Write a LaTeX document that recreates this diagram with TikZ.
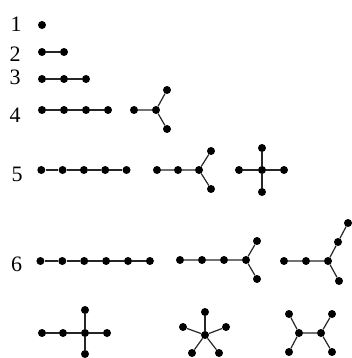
\documentclass[tikz,border=0pt]{standalone}
\usepackage{fontspec}
\setmainfont{Liberation Serif}
\usepackage{tikz}
\begin{document}
\begin{tikzpicture}[x=1pt,y=-1pt]
	\tikzset{vtx/.style={circle,fill=black,inner sep=0pt,minimum size=8pt}};
	\tikzset{lbl/.style={font=\fontsize{22}{24}\selectfont,inner sep=0pt}};
	\tikzset{edge/.style={line width=1.2pt,black!85}};
	\useasboundingbox (0,0) rectangle (351,358);
	% labels
	\node[lbl] (n1) at (16,24) {1};
	\node[lbl] (n2) at (15,54) {2};
	\node[lbl] (n3) at (15,77.5) {3};
	\node[lbl] (n4) at (15,115.5) {4};
	\node[lbl] (n5) at (17,174) {5};
	\node[lbl] (n6) at (16.5,264.5) {6};
	% paths
	\node[vtx] (p11) at (42,25) {};
	\foreach \i in {1,2} \node[vtx] (p2\i) at ({20+22*\i},52) {};
	\foreach \i in {1,...,3} \node[vtx] (p3\i) at ({20+22*\i},79) {};
	\foreach \i in {1,...,4} \node[vtx] (p4\i) at ({20+22*\i},110) {};
	\foreach \i in {1,...,5} \node[vtx] (p5\i) at ({20+21.3*\i},170) {};
	\foreach \i in {1,...,6} \node[vtx] (p6\i) at ({18.5+21.9*\i},261) {};
	\draw[edge] (p21)--(p22);
	\foreach \i [count=\j from 2] in {1,2} \draw[edge] (p3\i)--(p3\j);
	\foreach \i [count=\j from 2] in {1,...,3} \draw[edge] (p4\i)--(p4\j);
	\foreach \i [count=\j from 2] in {1,...,4} \draw[edge] (p5\i)--(p5\j);
	\foreach \i [count=\j from 2] in {1,...,5} \draw[edge] (p6\i)--(p6\j);
	% n=4 fork
	\node[vtx] (fa) at (134,110) {};
	\node[vtx] (fb) at (156,110) {};
	\node[vtx] (fc) at (167,90) {};
	\node[vtx] (fd) at (167,129) {};
	\draw[edge] (fa)--(fb) (fb)--(fc) (fb)--(fd);
	% n=5 fork
	\node[vtx] (ga) at (157,170) {};
	\node[vtx] (gb) at (178,170) {};
	\node[vtx] (gc) at (199,170) {};
	\node[vtx] (gd) at (211,151) {};
	\node[vtx] (ge) at (211,189) {};
	\draw[edge] (ga)--(gb)--(gc) (gc)--(gd) (gc)--(ge);
	% n=5 star
	\node[vtx] (sc) at (262,170) {};
	\node[vtx] (sl) at (239,170) {};
	\node[vtx] (sr) at (284,170) {};
	\node[vtx] (su) at (262,148) {};
	\node[vtx] (sd) at (262,192) {};
	\foreach \k in {sl,sr,su,sd} \draw[edge] (sc)--(\k);
	% n=6 fork
	\node[vtx] (ha) at (180,260) {};
	\node[vtx] (hb) at (202,260) {};
	\node[vtx] (hc) at (224,260) {};
	\node[vtx] (hd) at (246,260) {};
	\node[vtx] (he) at (257,241) {};
	\node[vtx] (hf) at (257,279) {};
	\draw[edge] (ha)--(hb)--(hc)--(hd) (hd)--(he) (hd)--(hf);
	% n=6 long fork
	\node[vtx] (ka) at (284,261) {};
	\node[vtx] (kb) at (306,261) {};
	\node[vtx] (kc) at (328,261) {};
	\node[vtx] (kd) at (339,281) {};
	\node[vtx] (ke) at (338,242) {};
	\node[vtx] (kf) at (348,223) {};
	\draw[edge] (ka)--(kb)--(kc) (kc)--(kd) (kc)--(ke)--(kf);
	% n=6 cross with tail
	\node[vtx] (ma) at (42,333) {};
	\node[vtx] (mb) at (63,333) {};
	\node[vtx] (mc) at (85,333) {};
	\node[vtx] (md) at (107,333) {};
	\node[vtx] (me) at (85,310) {};
	\node[vtx] (mf) at (85,354) {};
	\draw[edge] (ma)--(mb)--(mc) \foreach \k in {md,me,mf} {(mc)--(\k)};
	% n=6 star
	\node[vtx] (qc) at (205,335) {};
	\node[vtx] (qa) at (205,312) {};
	\node[vtx] (qb) at (183,327) {};
	\node[vtx] (qd) at (226,327) {};
	\node[vtx] (qe) at (192,353) {};
	\node[vtx] (qf) at (219,353) {};
	\foreach \k in {qa,qb,qd,qe,qf} \draw[edge] (qc)--(\k);
	% n=6 H
	\node[vtx] (ra) at (299,333) {};
	\node[vtx] (rb) at (321,333) {};
	\node[vtx] (rc) at (289,314) {};
	\node[vtx] (rd) at (289,352) {};
	\node[vtx] (re) at (332,314) {};
	\node[vtx] (rf) at (332,352) {};
	\draw[edge] (ra)--(rb) (ra)--(rc) (ra)--(rd) (rb)--(re) (rb)--(rf);
\end{tikzpicture}
\end{document}
